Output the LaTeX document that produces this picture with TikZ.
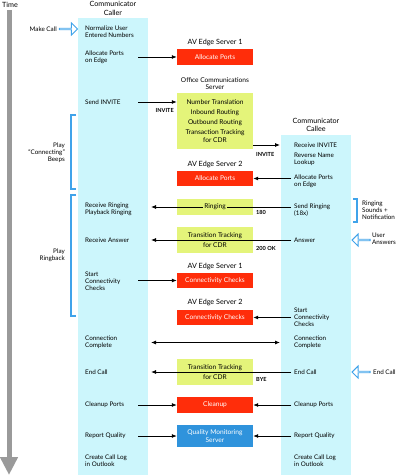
\documentclass[tikz,border=0pt]{standalone}
\usepackage{fontspec}
\setmainfont{Lato}
\usetikzlibrary{arrows.meta,positioning,shapes.arrows}
\definecolor{lanecyan}{HTML}{CCF6FC}
\definecolor{edgered}{HTML}{FF2D0A}
\definecolor{ocsgreen}{HTML}{E4F47A}
\definecolor{qmsblue}{HTML}{2F93DC}
\definecolor{brk}{HTML}{3FA3EA}
\definecolor{timegray}{HTML}{9A9A9A}

\tikzset{
  lane/.style={fill=lanecyan,draw=none,inner sep=0pt,anchor=north west},
  act/.style={anchor=west,align=left,inner sep=0pt,font=\fontsize{6.3}{7}\selectfont},
  note/.style={act,anchor=east,align=right},
  hdr/.style={align=center,inner sep=0pt,font=\fontsize{7.2}{8.5}\selectfont},
  srv/.style={minimum width=76pt,inner sep=0pt,align=center,font=\fontsize{6.6}{8}\selectfont},
  avbox/.style={srv,fill=edgered,text=white},
  ocsbox/.style={srv,fill=ocsgreen},
  qmbox/.style={srv,fill=qmsblue,text=white},
  msg/.style={line width=0.8pt,-{Latex[length=5pt,width=4pt]}},
  dmsg/.style={line width=0.8pt,{Latex[length=5pt,width=4pt]}-{Latex[length=5pt,width=4pt]}},
  tag/.style={inner sep=0pt,font=\bfseries\fontsize{5.6}{6}\selectfont},
  hollow/.style={single arrow,draw=brk,fill=white,line width=0.9pt,minimum height=18pt,
    minimum width=12pt,single arrow head extend=3pt,inner sep=0pt},
  bracket/.style={color=brk,line width=1.1pt}
}

\begin{document}
\begin{tikzpicture}[x=1pt,y=-1pt]
\useasboundingbox (0,0) rectangle (400,476);

% time axis
\node[hdr] (time) at (10,5) {Time};
\draw[timegray,line width=5pt,-{Triangle[length=18pt,width=17pt]}] (9,10) -- (9,475);

% lanes
\node[lane,minimum width=70pt,minimum height=457pt] (callerlane) at (78,18) {};
\node[lane,minimum width=70pt,minimum height=340pt] (calleelane) at (281,135) {};
\node[hdr] (callerhd) at (113,8.5) {Communicator\\Caller};
\node[hdr] (calleehd) at (316,125) {Communicator\\Callee};

% caller steps
\node[act] (cNorm)   at (85,32)    {Normalize User\\Entered Numbers};
\node[act] (cAlloc)  at (85,57.5)  {Allocate Ports\\on Edge};
\node[act] (cInvite) at (85,102)   {Send INVITE};
\node[act] (cRing)   at (85,209.5) {Receive Ringing\\Playback Ringing};
\node[act] (cAnswer) at (85,240)   {Receive Answer};
\node[act] (cCheck)  at (85,281)   {Start\\Connectivity\\Checks};
\node[act] (cConn)   at (85,342.5) {Connection\\Complete};
\node[act] (cEnd)    at (85,372)   {End Call};
\node[act] (cClean)  at (85,405)   {Cleanup Ports};
\node[act] (cReport) at (85,436)   {Report Quality};
\node[act] (cLog)    at (85,460.5) {Create Call Log\\in Outlook};

% callee steps
\node[act] (kRecv)   at (294,145)   {Receive INVITE};
\node[act] (kLookup) at (294,159)   {Reverse Name\\Lookup};
\node[act] (kAlloc)  at (294,181.5) {Allocate Ports\\on Edge};
\node[act] (kSend)   at (294,210.5) {Send Ringing\\(18x)};
\node[act] (kAnswer) at (294,240)   {Answer};
\node[act] (kCheck)  at (294,317)   {Start\\Connectivity\\Checks};
\node[act] (kConn)   at (294,342.5) {Connection\\Complete};
\node[act] (kEnd)    at (294,372)   {End Call};
\node[act] (kClean)  at (294,405)   {Cleanup Ports};
\node[act] (kReport) at (294,436)   {Report Quality};
\node[act] (kLog)    at (294,460.5) {Create Call Log\\in Outlook};

% servers
\node[hdr] (e1lbl) at (215,43) {AV Edge Server 1};
\node[avbox,minimum height=16pt] (e1alloc) at (215,57) {Allocate Ports};
\node[hdr,font=\fontsize{6.6}{7.5}\selectfont] (ocslbl) at (215,83.5) {Office Communications\\Server};
\node[ocsbox,minimum height=56pt,font=\fontsize{6.6}{10}\selectfont] (ocs) at (215,121)
  {Number Translation\\Inbound Routing\\Outbound Routing\\Transaction Tracking\\[-2pt]for CDR};
\node[hdr] (e2lbl) at (215,165) {AV Edge Server 2};
\node[avbox,minimum height=15pt] (e2alloc) at (215,178.5) {Allocate Ports};
\node[ocsbox,minimum height=16pt] (ring) at (215,207) {};
\node[ocsbox,minimum height=26pt,font=\fontsize{6.6}{10}\selectfont] (tt1) at (215,240) {Transition Tracking\\for CDR};
\node[hdr] (e1clbl) at (215,267) {AV Edge Server 1};
\node[avbox,minimum height=15pt] (e1chk) at (215,280.5) {Connectivity Checks};
\node[hdr] (e2clbl) at (215,303) {AV Edge Server 2};
\node[avbox,minimum height=15pt] (e2chk) at (215,317.5) {Connectivity Checks};
\node[ocsbox,minimum height=26pt,font=\fontsize{6.6}{10}\selectfont] (tt2) at (215,372) {Transition Tracking\\for CDR};
\node[avbox,minimum height=16pt] (cleanup) at (215,405) {Cleanup};
\node[qmbox,minimum height=22pt,font=\fontsize{6.6}{7.5}\selectfont] (qms) at (215,436) {Quality Monitoring\\Server};

% arrow ends
\coordinate (cOut) at (138,0);
\coordinate (cIn)  at (151,0);
\coordinate (kOut) at (291,0);
\coordinate (kIn)  at (280,0);

% messages
\draw[msg] (cOut |- e1alloc) -- (e1alloc.west);
\draw[msg] (cOut |- cInvite) -- (ocs.west |- cInvite);
\node[tag,anchor=east] (inv1) at (174,110) {INVITE};
\draw[msg] (ocs.east |- kRecv) -- (kIn |- kRecv);
\node[tag,anchor=west] (inv2) at (256,154) {INVITE};
\draw[msg] (kOut |- e2alloc) -- (e2alloc.east);
\draw[msg] (kOut |- ring) -- (cIn |- ring);
\node[fill=ocsgreen,inner sep=1.5pt,font=\fontsize{6.6}{8}\selectfont] (ringtxt) at (ring) {Ringing};
\node[tag,anchor=west] (t180) at (256,212) {180};
\draw[msg] (kOut |- tt1) -- (cIn |- tt1);
\node[tag,anchor=west] (t200) at (256,248) {200 OK};
\draw[msg] (cOut |- e1chk) -- (e1chk.west);
\draw[msg] (kOut |- e2chk) -- (e2chk.east);
\draw[dmsg] (cIn |- cConn) -- (kIn |- cConn);
\draw[msg] (kOut |- tt2) -- (cIn |- tt2);
\node[tag,anchor=west] (tbye) at (256,379) {BYE};
\draw[msg] (cOut |- cleanup) -- (cleanup.west);
\draw[msg] (kOut |- cleanup) -- (cleanup.east);
\draw[msg] (cOut |- qms) -- (qms.west);
\draw[msg] (kOut |- qms) -- (qms.east);

% user side notes
\node[note] (makecall) at (57,29) {Make Call};
\node[hollow] (mcarrow) at (68,29) {};
\draw[bracket] (76,115) -- (71,115) -- (71,189) -- (76,189);
\node[note] (beeps) at (65,153) {Play\\``Connecting''\\Beeps};
\draw[bracket] (76,195) -- (71,195) -- (71,316) -- (76,316);
\node[note] (ringback) at (65,255.5) {Play\\Ringback};
\draw[bracket] (353,199) -- (357,199) -- (357,222) -- (353,222);
\node[act] (ringsnd) at (362,210) {Ringing\\Sounds +\\Notification};
\node[hollow,shape border rotate=180] (uaarrow) at (361.5,240) {};
\node[act] (useransw) at (372,239) {User\\Answers};
\node[hollow,shape border rotate=180] (ecarrow) at (361.5,372) {};
\node[act] (endcall) at (373,372) {End Call};
\end{tikzpicture}
\end{document}
